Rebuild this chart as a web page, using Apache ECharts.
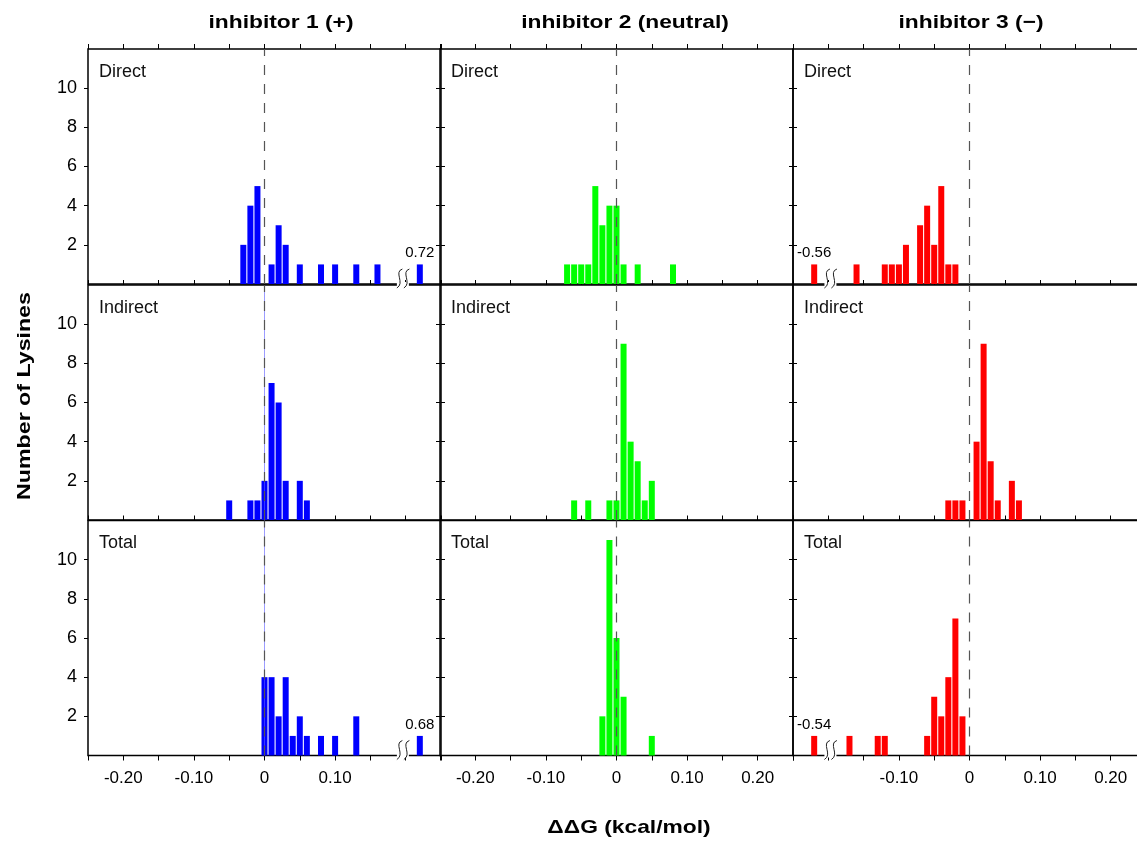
<!DOCTYPE html>
<html>
<head>
<meta charset="utf-8">
<script src="https://cdn.jsdelivr.net/npm/echarts@6/dist/echarts.min.js"></script>
<style>
html,body{margin:0;padding:0;background:#fff;}
#chart{width:1137px;height:841px;}
</style>
</head>
<body>
<div id="chart"></div>
<script>
// ---- data (x = bin centre in kcal/mol, y = number of lysines) ----
const columnTitles = ['inhibitor 1 (+)', 'inhibitor 2 (neutral)', 'inhibitor 3 (\u2212)'];
const rowLabels = ['Direct', 'Indirect', 'Total'];
const seriesColors = ['#0000ff', '#00ff00', '#ff0000'];
const xTickValues = [-0.20, -0.10, 0, 0.10, 0.20];
const yTickValues = [2, 4, 6, 8, 10];

const inh1Direct   = [[-0.03,2],[-0.02,4],[-0.01,5],[0.01,1],[0.02,3],[0.03,2],[0.05,1],[0.08,1],[0.10,1],[0.13,1],[0.16,1]];
const inh1Indirect = [[-0.05,1],[-0.02,1],[-0.01,1],[0.00,2],[0.01,7],[0.02,6],[0.03,2],[0.05,2],[0.06,1]];
const inh1Total    = [[0.00,4],[0.01,4],[0.02,2],[0.03,4],[0.04,1],[0.05,2],[0.06,1],[0.08,1],[0.10,1],[0.13,2]];

const inh2Direct   = [[-0.07,1],[-0.06,1],[-0.05,1],[-0.04,1],[-0.03,5],[-0.02,3],[-0.01,4],[0.00,4],[0.01,1],[0.03,1],[0.08,1]];
const inh2Indirect = [[-0.06,1],[-0.04,1],[-0.01,1],[0.00,1],[0.01,9],[0.02,4],[0.03,3],[0.04,1],[0.05,2]];
const inh2Total    = [[-0.02,2],[-0.01,11],[0.00,6],[0.01,3],[0.05,1]];

const inh3Direct   = [[-0.16,1],[-0.12,1],[-0.11,1],[-0.10,1],[-0.09,2],[-0.07,3],[-0.06,4],[-0.05,2],[-0.04,5],[-0.03,1],[-0.02,1]];
const inh3Indirect = [[-0.03,1],[-0.02,1],[-0.01,1],[0.01,4],[0.02,9],[0.03,3],[0.04,1],[0.06,2],[0.07,1]];
const inh3Total    = [[-0.17,1],[-0.13,1],[-0.12,1],[-0.06,1],[-0.05,3],[-0.04,2],[-0.03,4],[-0.02,7],[-0.01,2]];

// off-scale values drawn past an axis break
const outlierValues   = ['0.72', '0.68', '-0.56', '-0.54'];
const outlierCounts   = [1, 1, 1, 1];
const outlierPanels   = [[0,0],[2,0],[0,2],[2,2]];
const outlierDrawnAt  = [0.22, 0.22, -0.22, -0.22];
const outlierBreakAt  = [0.196, 0.196, -0.197, -0.197];

const panelData = [
  [inh1Direct, inh2Direct, inh3Direct],
  [inh1Indirect, inh2Indirect, inh3Indirect],
  [inh1Total, inh2Total, inh3Total]
];

// ---- layout ----
const gridLefts = [88, 440, 793];
const gridTops = [49, 285, 520.5];
const gridW = 353, gridH = 235;
const FONT = 'Liberation Sans, Arial, Helvetica, sans-serif';

const grids = [], xAxes = [], yAxes = [], series = [], graphics = [];

for (let r = 0; r < 3; r++) {
  for (let c = 0; c < 3; c++) {
    const g = r * 3 + c;
    grids.push({left: gridLefts[c], top: gridTops[r], width: gridW, height: gridH,
      outerBoundsMode: 'none', containLabel: false,
      show: true, borderColor: '#000', borderWidth: 1.5, backgroundColor: 'transparent'});
    // bottom axis
    xAxes.push({gridIndex: g, type: 'value', min: -0.25, max: 0.25, interval: 0.05, position: 'bottom',
      axisLine: {show: false, onZero: false},
      axisTick: {show: r === 2, length: 5, lineStyle: {color: '#000'}},
      splitLine: {show: false},
      axisLabel: {show: r === 2, color: '#000', fontSize: 17, fontFamily: FONT, margin: 14,
        formatter: function (v) {
          const k = Math.round(v * 100);
          if (!xTickValues.some(t => Math.round(t * 100) === k)) return '';
          if (c === 0 && k === 20) return '';
          if (c === 2 && k === -20) return '';
          if (k === 0) return '0';
          return (k / 100).toFixed(2);
        }}
    });
    // top axis (ticks only)
    xAxes.push({gridIndex: g, type: 'value', min: -0.25, max: 0.25, interval: 0.05, position: 'top',
      axisLine: {show: false, onZero: false}, axisTick: {show: true, length: 5, lineStyle: {color: '#000'}},
      splitLine: {show: false}, axisLabel: {show: false}});
    // left axis
    yAxes.push({gridIndex: g, type: 'value', min: 0, max: 12, interval: 2, position: 'left',
      axisLine: {show: false, onZero: false},
      axisTick: {show: true, length: 4, customValues: yTickValues, lineStyle: {color: '#000'}},
      splitLine: {show: false},
      axisLabel: {show: c === 0, color: '#000', fontSize: 18, fontFamily: FONT, margin: 11,
        customValues: yTickValues,
        formatter: v => (v === 0 || v === 12) ? '' : String(v)}});
    // right axis (ticks only)
    yAxes.push({gridIndex: g, type: 'value', min: 0, max: 12, interval: 2, position: 'right',
      axisLine: {show: false, onZero: false},
      axisTick: {show: true, length: 4, customValues: yTickValues, lineStyle: {color: '#000'}},
      splitLine: {show: false}, axisLabel: {show: false}});

    const data = panelData[r][c].map(d => [d[0], d[1]]);
    outlierPanels.forEach((p, i) => {
      if (p[0] === r && p[1] === c) {
        data.push({value: [outlierDrawnAt[i], outlierCounts[i]],
          label: {show: true, position: 'top', distance: 4, formatter: outlierValues[i],
            color: '#000', fontSize: 15, fontFamily: FONT}});
      }
    });

    const markData = [{xAxis: 0, lineStyle: {color: '#555', type: [10, 9], width: 1.2}}];
    if (c === 0 && r > 0) {
      markData.unshift({xAxis: 0, lineStyle: {color: 'rgba(90,90,255,0.6)', type: 'solid', width: 1}});
    }
    series.push({type: 'bar', xAxisIndex: g * 2, yAxisIndex: g * 2, data: data,
      barWidth: 6, itemStyle: {color: seriesColors[c]}, silent: true, animation: false,
      markLine: {silent: true, symbol: 'none', label: {show: false}, animation: false, data: markData}
    });

    graphics.push({type: 'text', left: gridLefts[c] + 11, top: gridTops[r] + 14, z: 50,
      style: {text: rowLabels[r], fill: '#111', font: '18px ' + FONT}});
  }
}

const titleCenters = [281, 625, 971];
columnTitles.forEach((t, c) => {
  graphics.push({type: 'text', x: titleCenters[c], y: 23, z: 50, scaleX: 1.2,
    style: {text: t, fill: '#000', font: 'bold 19px ' + FONT, textAlign: 'center', textVerticalAlign: 'middle'}});
});
graphics.push({type: 'text', x: 25, y: 396, rotation: Math.PI / 2, z: 50, scaleX: 1.22,
  style: {text: 'Number of Lysines', fill: '#000', font: 'bold 19px ' + FONT, textAlign: 'center', textVerticalAlign: 'middle'}});
graphics.push({type: 'text', x: 629, y: 828, z: 50, scaleX: 1.2,
  style: {text: '\u0394\u0394G (kcal/mol)', fill: '#000', font: 'bold 19px ' + FONT, textAlign: 'center', textVerticalAlign: 'middle'}});

const chart = echarts.init(document.getElementById('chart'), null, {renderer: 'canvas'});
chart.setOption({
  animation: false,
  backgroundColor: '#fff',
  grid: grids, xAxis: xAxes, yAxis: yAxes, series: series, graphic: graphics
});

// axis-break symbols, positioned through the axes
const breakGraphics = [];
outlierPanels.forEach((p, i) => {
  const g = p[0] * 3 + p[1];
  const pt = chart.convertToPixel({xAxisIndex: g * 2, yAxisIndex: g * 2}, [outlierBreakAt[i], 0]);
  const x = pt[0], y = pt[1];
  breakGraphics.push({type: 'rect', z: 60, shape: {x: x - 6, y: y - 2, width: 12, height: 4}, style: {fill: '#fff'}});
  [-3.5, 3.5].forEach(dx => {
    const cx = x + dx;
    breakGraphics.push({type: 'bezierCurve', z: 61,
      shape: {x1: cx + 3, y1: y - 15, cpx1: cx - 6, cpy1: y - 12, cpx2: cx + 6, cpy2: y - 1, x2: cx - 2.5, y2: y + 4},
      style: {stroke: '#222', fill: null, lineWidth: 1}});
  });
});
chart.setOption({graphic: graphics.concat(breakGraphics)});
</script>
</body>
</html>
